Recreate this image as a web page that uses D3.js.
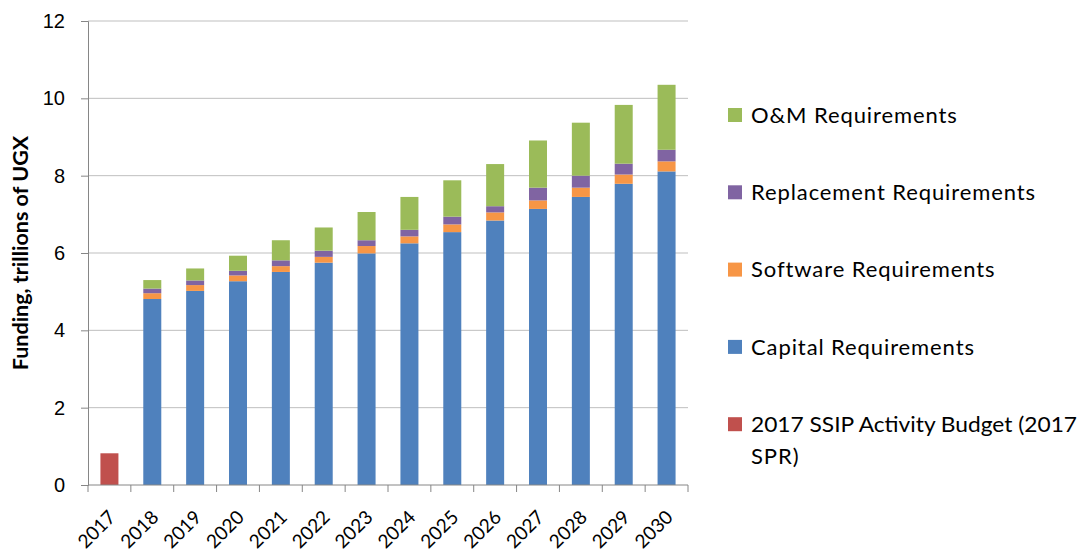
<!DOCTYPE html>
<html>
<head>
<meta charset="utf-8">
<script src="https://cdn.jsdelivr.net/npm/d3@7"></script>
<style>
  html, body { margin: 0; padding: 0; background: #fff; }
  svg { display: block; font-family: Lato, "Open Sans", sans-serif; }
</style>
</head>
<body>
<div id="chart"></div>
<script>
// Funding requirements by year, trillions of UGX
const years = ['2017', '2018', '2019', '2020', '2021', '2022', '2023', '2024', '2025', '2026', '2027', '2028', '2029', '2030'];
const budget2017 = [0.82, 0, 0, 0, 0, 0, 0, 0, 0, 0, 0, 0, 0, 0];
const capital = [0, 4.81, 5.02, 5.27, 5.51, 5.75, 5.99, 6.25, 6.54, 6.84, 7.14, 7.45, 7.79, 8.11];
const software = [0, 0.15, 0.15, 0.15, 0.15, 0.15, 0.19, 0.18, 0.20, 0.21, 0.22, 0.24, 0.24, 0.26];
const replacement = [0, 0.12, 0.12, 0.12, 0.15, 0.16, 0.15, 0.17, 0.20, 0.16, 0.33, 0.31, 0.28, 0.30];
const om = [0, 0.22, 0.31, 0.39, 0.52, 0.60, 0.73, 0.85, 0.94, 1.09, 1.22, 1.37, 1.52, 1.68];
const yTicks = [0, 2, 4, 6, 8, 10, 12];

const SERIES = [
  { key: 'budget', label: '2017 SSIP Activity Budget (2017 SPR)', values: budget2017, color: '#C0504D' },
  { key: 'capital', label: 'Capital Requirements', values: capital, color: '#4F81BD' },
  { key: 'software', label: 'Software Requirements', values: software, color: '#F79646' },
  { key: 'replacement', label: 'Replacement Requirements', values: replacement, color: '#8064A2' },
  { key: 'om', label: 'O&M Requirements', values: om, color: '#9BBB59' },
];

const width = 1083;
const height = 552;
const MARGIN = { top: 21, left: 88, right: 395, bottom: 67 };
const innerW = width - MARGIN.left - MARGIN.right;
const innerH = height - MARGIN.top - MARGIN.bottom;

const rows = years.map((y, i) => {
  const r = { year: y };
  SERIES.forEach(s => { r[s.key] = s.values[i]; });
  return r;
});
const stacked = d3.stack().keys(SERIES.map(s => s.key))(rows);

const svg = d3.select('#chart').append('svg')
  .attr('width', width)
  .attr('height', height);

const g = svg.append('g')
  .attr('transform', `translate(${MARGIN.left},${MARGIN.top})`);

const x = d3.scaleBand().domain(years).range([0, innerW]).paddingInner(0.58).paddingOuter(0.29);
const y = d3.scaleLinear().domain([0, 12]).range([innerH, 0]);

// gridlines
g.append('g')
  .selectAll('line')
  .data(yTicks.filter(t => t > 0))
  .join('line')
  .attr('x1', 0).attr('x2', innerW)
  .attr('y1', d => y(d)).attr('y2', d => y(d))
  .attr('stroke', '#BFBFBF')
  .attr('stroke-width', 1);

// bars
g.selectAll('.series')
  .data(stacked)
  .join('g')
  .attr('class', 'series')
  .attr('fill', (d, i) => SERIES[i].color)
  .selectAll('rect')
  .data(d => d.filter(p => p[1] - p[0] > 0))
  .join('rect')
  .attr('x', d => x(d.data.year))
  .attr('width', x.bandwidth())
  .attr('y', d => y(d[1]))
  .attr('height', d => y(d[0]) - y(d[1]));

// y axis
const yAxis = g.append('g')
  .call(d3.axisLeft(y).tickValues(yTicks).tickSize(7).tickPadding(16).tickFormat(d3.format('d')));
yAxis.select('.domain').attr('stroke', '#868686');
yAxis.selectAll('.tick line').attr('stroke', '#868686');
yAxis.selectAll('text').style('font-size', '20px').style('fill', '#000');

// x axis with ticks at category boundaries
const xAxis = g.append('g')
  .attr('transform', `translate(0,${innerH})`);
xAxis.append('line')
  .attr('x1', 0).attr('x2', innerW)
  .attr('stroke', '#868686');
const step = x.step();
xAxis.selectAll('.bound')
  .data(d3.range(years.length + 1))
  .join('line')
  .attr('class', 'bound')
  .attr('x1', i => i * step).attr('x2', i => i * step)
  .attr('y1', 0).attr('y2', 7)
  .attr('stroke', '#868686');
xAxis.selectAll('text')
  .data(years)
  .join('text')
  .attr('transform', d => `translate(${x(d) + x.bandwidth() / 2 - 2},${24}) rotate(-45)`)
  .attr('text-anchor', 'end')
  .attr('dy', '0.7em')
  .style('font-size', '19px')
  .style('fill', '#000')
  .text(d => d);

// y title
svg.append('text')
  .attr('transform', `translate(28,${MARGIN.top + innerH / 2}) rotate(-90)`)
  .attr('text-anchor', 'middle')
  .style('font-size', '21.5px')
  .style('font-weight', 'bold')
  .style('fill', '#000')
  .text('Funding, trillions of UGX');

// legend (top of stack first)
const legend = svg.append('g').attr('transform', 'translate(728,115)');
const legendItems = SERIES.slice().reverse();
legendItems.forEach((s, i) => {
  const lg = legend.append('g').attr('transform', `translate(0,${i * 77.3})`);
  lg.append('rect')
    .attr('x', 0).attr('y', -7).attr('width', 14).attr('height', 14)
    .attr('fill', s.color);
  const t = lg.append('text')
    .attr('x', 23).attr('y', 0).attr('dy', '0.35em')
    .style('font-size', '22px')
    .style('letter-spacing', '0.9px')
    .style('fill', '#000');
  if (s.key === 'budget') {
    t.append('tspan').attr('x', 23)
      .style('letter-spacing', '0px')
      .attr('textLength', 326).attr('lengthAdjust', 'spacingAndGlyphs')
      .text('2017 SSIP Activity Budget (2017');
    t.append('tspan').attr('x', 23).attr('dy', '32px').text('SPR)');
  } else {
    t.text(s.label);
  }
});
</script>
</body>
</html>
